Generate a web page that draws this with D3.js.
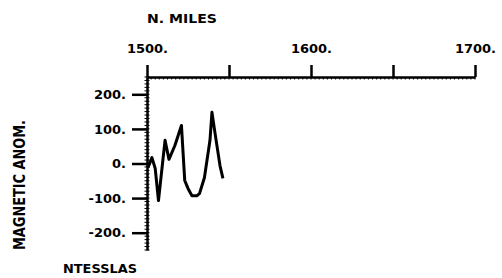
<!DOCTYPE html>
<html>
<head>
<meta charset="utf-8">
<script src="https://cdn.jsdelivr.net/npm/d3@7"></script>
<style>
body { margin: 0; background: #fff; }
text { font-family: "DejaVu Sans", sans-serif; font-weight: bold; font-size: 13px; fill: #000; }
</style>
</head>
<body>
<svg id="chart" width="502" height="278"></svg>
<script>
// distance along track (n. miles) and magnetic anomaly (nT)
var miles = [1500.6, 1503, 1505, 1507, 1511, 1513.4, 1517, 1521, 1523, 1525, 1527.4, 1530.5, 1532, 1535, 1538.4, 1539.6, 1541.5, 1544.5, 1546.3];
var anom  = [-12, 17, -14, -107, 67, 12, 52, 110, -49, -72, -93, -93, -87, -41, 67, 148, 87, -6, -43];
var xTicks = [1500, 1550, 1600, 1650, 1700];
var xLabels = [1500, 1600, 1700];
var yTicks = [200, 100, 0, -100, -200];

var svg = d3.select("#chart");
var x = d3.scaleLinear().domain([1500, 1700]).range([147, 475]);
var y = d3.scaleLinear().domain([-250, 250]).range([250, 77]);

// x axis along the top, ticks pointing up
var xa = svg.append("g").attr("transform", "translate(0,77)")
	.call(d3.axisTop(x).tickValues(xTicks).tickSize(12).tickSizeOuter(0)
		.tickFormat(function(d) { return xLabels.indexOf(d) >= 0 ? d + "." : ""; }));
xa.select(".domain").attr("stroke-width", 2.5);
xa.selectAll(".tick line").attr("stroke-width", 2.5);
xa.selectAll(".tick text").attr("y", -24).attr("dy", 0);

// minor hatch ticks on x axis
svg.append("g").selectAll("line").data(d3.range(1500, 1701, 2.5))
	.enter().append("line")
	.attr("x1", function(d) { return x(d); }).attr("x2", function(d) { return x(d); })
	.attr("y1", 77).attr("y2", 79.5).attr("stroke", "#000").attr("stroke-width", 1);

// y axis, ticks pointing left
var ya = svg.append("g").attr("transform", "translate(147,0)")
	.call(d3.axisLeft(y).tickValues(yTicks).tickSize(15).tickSizeOuter(0)
		.tickFormat(function(d) { return d + "."; }));
ya.select(".domain").attr("stroke-width", 2.5);
ya.selectAll(".tick line").attr("stroke-width", 2.5);
ya.selectAll(".tick text").attr("x", -21);

svg.append("g").selectAll("line").data(d3.range(-250, 251, 10))
	.enter().append("line")
	.attr("y1", function(d) { return y(d); }).attr("y2", function(d) { return y(d); })
	.attr("x1", 144.5).attr("x2", 149.5).attr("stroke", "#000").attr("stroke-width", 1);

// anomaly profile
var line = d3.line()
	.x(function(d, i) { return x(miles[i]); })
	.y(function(d) { return y(d); });

svg.append("path")
	.datum(anom)
	.attr("fill", "none")
	.attr("stroke", "#000")
	.attr("stroke-width", 3)
	.attr("stroke-linejoin", "round")
	.attr("d", line);

// labels
svg.append("text").attr("x", 147).attr("y", 23).attr("textLength", 70).attr("lengthAdjust", "spacingAndGlyphs").text("N. MILES");
svg.append("text").attr("transform", "translate(25,185) rotate(-90)").attr("text-anchor", "middle")
	.style("font-size", "16px")
	.attr("textLength", 130).attr("lengthAdjust", "spacingAndGlyphs").text("MAGNETIC ANOM.");
svg.append("text").attr("x", 63).attr("y", 273).attr("textLength", 74).attr("lengthAdjust", "spacingAndGlyphs").text("NTESSLAS");
</script>
</body>
</html>
